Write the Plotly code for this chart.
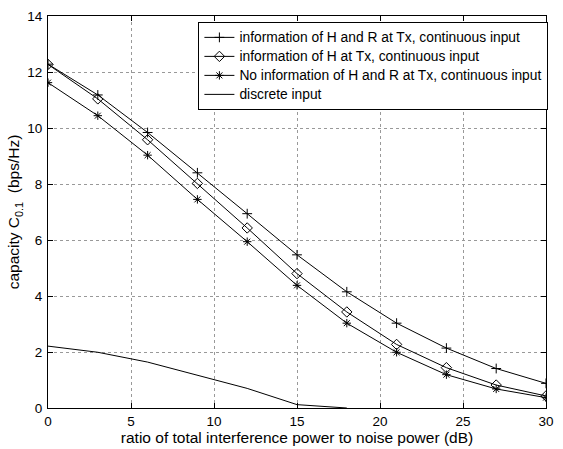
import plotly.graph_objects as go

x_db = [0, 3, 6, 9, 12, 15, 18, 21, 24, 27, 30]
cap_HR = [12.28, 11.18, 9.84, 8.40, 6.94, 5.47, 4.15, 3.03, 2.14, 1.41, 0.88]
cap_H = [12.27, 11.04, 9.58, 8.02, 6.43, 4.80, 3.43, 2.27, 1.44, 0.82, 0.43]
cap_none = [11.62, 10.44, 9.03, 7.45, 5.94, 4.38, 3.03, 1.99, 1.19, 0.68, 0.37]
x_disc = [0, 3, 6, 9, 12, 15, 18]
cap_disc = [2.21, 1.99, 1.64, 1.17, 0.70, 0.12, 0.0]

names = [
    "information of H and R at Tx, continuous input",
    "information of H at Tx, continuous input",
    "No information of H and R at Tx, continuous input",
    "discrete input",
]

FONT = "Liberation Sans, Arial, Helvetica, sans-serif"


def leg(name):
    return '<span style="font-size:13.8px">' + name + "</span>"


fig = go.Figure()
fig.add_trace(go.Scatter(x=x_db, y=cap_HR, name=leg(names[0]), mode="lines+markers",
                         line=dict(color="black", width=1),
                         marker=dict(symbol="cross-thin-open", size=7, color="black",
                                     line=dict(color="black", width=1))))
fig.add_trace(go.Scatter(x=x_db, y=cap_H, name=leg(names[1]), mode="lines+markers",
                         line=dict(color="black", width=1),
                         marker=dict(symbol="diamond-open", size=8, color="black",
                                     line=dict(color="black", width=1))))
fig.add_trace(go.Scatter(x=x_db, y=cap_none, name=leg(names[2]), mode="lines+markers",
                         line=dict(color="black", width=1),
                         marker=dict(symbol="asterisk-open", size=7, color="black",
                                     line=dict(color="black", width=1))))
fig.add_trace(go.Scatter(x=x_disc, y=cap_disc, name=leg(names[3]), mode="lines",
                         line=dict(color="black", width=1)))

axis_common = dict(
    showline=True, linecolor="black", linewidth=1, mirror="ticks",
    ticks="inside", ticklen=5, tickcolor="black",
    showgrid=True, gridcolor="#999999", griddash="dot", gridwidth=1,
    zeroline=False,
    tickfont=dict(family=FONT, size=13.5, color="black"),
)

fig.update_xaxes(range=[0, 30], tickvals=[0, 5, 10, 15, 20, 25, 30],
                 ticklabelstandoff=1,
                 title=dict(text="ratio of total interference power to noise power (dB)",
                            font=dict(family=FONT, size=15.5, color="black"),
                            standoff=0),
                 **axis_common)
fig.update_yaxes(range=[0, 14], tickvals=[0, 2, 4, 6, 8, 10, 12, 14],
                 ticklabelstandoff=2,
                 title=dict(text="capacity C<sub>0.1</sub>  (bps/Hz)",
                            font=dict(family=FONT, size=15.5, color="black"),
                            standoff=3),
                 **axis_common)

fig.update_layout(
    width=563, height=449,
    margin=dict(l=48, r=9, t=15, b=36),
    paper_bgcolor="white", plot_bgcolor="white",
    font=dict(family=FONT, color="black"),
    legend=dict(x=0.302, y=0.985, xanchor="left", yanchor="top",
                bgcolor="white", bordercolor="black", borderwidth=1,
                font=dict(family=FONT, size=11, color="black"), tracegroupgap=0,
                itemwidth=30),
    showlegend=True,
)

fig.write_html("out.html")
